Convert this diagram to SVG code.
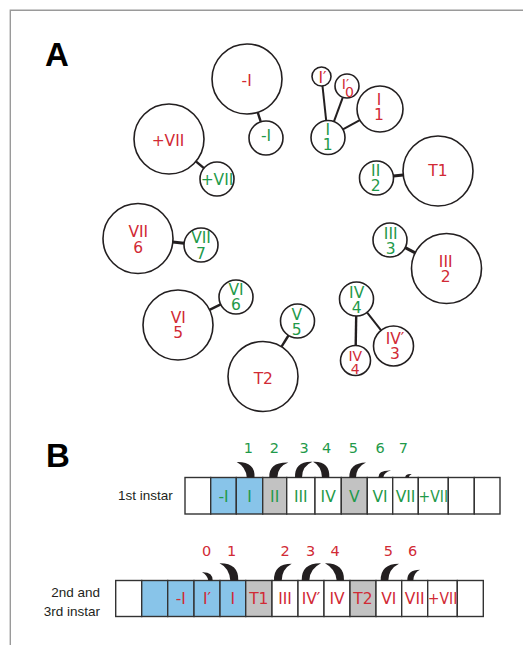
<svg xmlns="http://www.w3.org/2000/svg" width="523" height="645" viewBox="0 0 523 645">
  <style>
    .node circle { fill: #ffffff; stroke: #231f20; stroke-width: 1.6; }
    .conn line { stroke: #231f20; stroke-width: 2.4; stroke-linecap: butt; }
    .lbl { font-family: "DejaVu Sans", Verdana, sans-serif; font-size: 15.5px; text-anchor: middle; }
    .sm { font-size: 14px; }
    .red { fill: #d12a35; }
    .green { fill: #1f9a4a; }
    .num { font-family: "DejaVu Sans", Verdana, sans-serif; font-size: 14.5px; text-anchor: middle; }
    .panel { font-family: "Liberation Sans", Arial, sans-serif; font-weight: bold; font-size: 33px; fill: #000; }
    .stage { font-family: "Liberation Sans", Arial, sans-serif; font-size: 13.5px; fill: #231f20; text-anchor: end; }
    .box { stroke: #333333; stroke-width: 1.4; }
    .w { fill: #ffffff; }
    .b { fill: #88c4e9; }
    .g { fill: #c2c2c2; }
    .hook { fill: #231f20; }
  </style>

  <!-- frame -->
  <polyline points="10.3,645 10.3,10.3 523,10.3" fill="none" stroke="#9a9a9a" stroke-width="1.4"/>

  <!-- panel letters -->
  <text class="panel" x="45" y="66">A</text>
  <text class="panel" x="46" y="467">B</text>

  <!-- A: connectors -->
  <g id="connectors" class="conn">
    <line x1="257.7" y1="112.3" x2="260.8" y2="121.8"/>
    <line x1="195.9" y1="161.4" x2="203.9" y2="168.1"/>
    <line x1="322.5" y1="86" x2="326.2" y2="120.6" style="stroke-width:2"/>
    <line x1="342.8" y1="97.3" x2="333.9" y2="121.6" style="stroke-width:2"/>
    <line x1="342.9" y1="129.3" x2="359.8" y2="120.1" style="stroke-width:2"/>
    <line x1="393.4" y1="176.1" x2="403.2" y2="175" style="stroke-width:3"/>
    <line x1="172.8" y1="242.1" x2="184.1" y2="243.2" style="stroke-width:3"/>
    <line x1="209.5" y1="309.8" x2="220.7" y2="304.4"/>
    <line x1="288.5" y1="335.5" x2="281.5" y2="346.7"/>
    <line x1="405.2" y1="247.7" x2="415.2" y2="252.8" style="stroke-width:3"/>
    <line x1="356.2" y1="316" x2="355.7" y2="345.5"/>
    <line x1="367" y1="312.4" x2="381.1" y2="330.3" style="stroke-width:2"/>
  </g>

  <!-- A: nodes (two-line labels are one text with two lines) -->
  <g id="n-minusI-big" class="node">
    <circle cx="247" cy="79" r="35"/>
    <text class="lbl red" x="246.7" y="86">-I</text>
  </g>
  <g id="n-minusI-small" class="node">
    <circle cx="266" cy="138" r="17"/>
    <text class="lbl green" x="266" y="141">-I</text>
  </g>
  <g id="n-plusVII-big" class="node">
    <circle cx="169" cy="139" r="35"/>
    <text class="lbl red" x="168" y="146">+VII</text>
  </g>
  <g id="n-plusVII-small" class="node">
    <circle cx="217" cy="179" r="17"/>
    <text class="lbl green" x="217" y="185">+VII</text>
  </g>
  <g id="n-Iprime" class="node">
    <circle cx="321.5" cy="76.5" r="9.5"/>
    <text class="lbl red" x="322.5" y="83">I′</text>
  </g>
  <g id="n-Iprime0" class="node">
    <circle cx="347" cy="86" r="12"/>
    <text class="lbl sm red"><tspan x="345.5" y="88.5">I′</tspan><tspan x="349.5" y="96.5">0</tspan></text>
  </g>
  <g id="n-I1-red" class="node">
    <circle cx="380" cy="109" r="23"/>
    <text class="lbl red"><tspan x="379" y="105">I</tspan><tspan x="379" y="120">1</tspan></text>
  </g>
  <g id="n-I1-green" class="node">
    <circle cx="328" cy="137.5" r="17"/>
    <text class="lbl green"><tspan x="327.7" y="135">I</tspan><tspan x="327.7" y="150">1</tspan></text>
  </g>
  <g id="n-II2" class="node">
    <circle cx="376.5" cy="178" r="17"/>
    <text class="lbl green"><tspan x="375.7" y="176">II</tspan><tspan x="375.7" y="191">2</tspan></text>
  </g>
  <g id="n-T1" class="node">
    <circle cx="438" cy="171" r="35"/>
    <text class="lbl red" x="438" y="176">T1</text>
  </g>
  <g id="n-VII6" class="node">
    <circle cx="138" cy="238.5" r="35"/>
    <text class="lbl red"><tspan x="138.3" y="236.7">VII</tspan><tspan x="138.3" y="253.3">6</tspan></text>
  </g>
  <g id="n-VII7" class="node">
    <circle cx="201" cy="245" r="17"/>
    <text class="lbl green"><tspan x="201" y="243.3">VII</tspan><tspan x="201" y="259">7</tspan></text>
  </g>
  <g id="n-III3" class="node">
    <circle cx="390" cy="240" r="17"/>
    <text class="lbl green"><tspan x="390.7" y="239.3">III</tspan><tspan x="390.7" y="254.3">3</tspan></text>
  </g>
  <g id="n-III2" class="node">
    <circle cx="446.5" cy="268.5" r="35"/>
    <text class="lbl red"><tspan x="445.7" y="266.7">III</tspan><tspan x="445.7" y="281.7">2</tspan></text>
  </g>
  <g id="n-VI6" class="node">
    <circle cx="236" cy="297" r="17"/>
    <text class="lbl green"><tspan x="236" y="295">VI</tspan><tspan x="236" y="310">6</tspan></text>
  </g>
  <g id="n-VI5" class="node">
    <circle cx="178" cy="325" r="35"/>
    <text class="lbl red"><tspan x="178.3" y="323.3">VI</tspan><tspan x="178.3" y="337.7">5</tspan></text>
  </g>
  <g id="n-V5" class="node">
    <circle cx="297.5" cy="321" r="17"/>
    <text class="lbl green"><tspan x="296.7" y="320">V</tspan><tspan x="296.7" y="335">5</tspan></text>
  </g>
  <g id="n-T2" class="node">
    <circle cx="263" cy="376.5" r="35"/>
    <text class="lbl red" x="263.3" y="384">T2</text>
  </g>
  <g id="n-IV4-green" class="node">
    <circle cx="356.5" cy="299" r="17"/>
    <text class="lbl green"><tspan x="356.7" y="297.7">IV</tspan><tspan x="356.7" y="312.7">4</tspan></text>
  </g>
  <g id="n-IV4-red" class="node">
    <circle cx="355.5" cy="360.5" r="15"/>
    <text class="lbl sm red"><tspan x="355.3" y="361">IV</tspan><tspan x="355.3" y="374">4</tspan></text>
  </g>
  <g id="n-IVprime3" class="node">
    <circle cx="393.5" cy="346" r="20"/>
    <text class="lbl red"><tspan x="395" y="344">IV′</tspan><tspan x="395" y="358.5">3</tspan></text>
  </g>

  <!-- B: 1st instar segment row -->
  <g id="row-1st">
    <text class="stage" x="172.7" y="500">1st instar</text>
    <rect class="box w" x="185" y="477.5" width="25.7" height="36.5"/>
    <rect class="box b" x="210.7" y="477.5" width="25.6" height="36.5"/>
    <rect class="box b" x="236.3" y="477.5" width="26.4" height="36.5"/>
    <rect class="box g" x="262.7" y="477.5" width="24" height="36.5"/>
    <rect class="box w" x="286.7" y="477.5" width="28.3" height="36.5"/>
    <rect class="box w" x="315" y="477.5" width="26.3" height="36.5"/>
    <rect class="box g" x="341.3" y="477.5" width="26" height="36.5"/>
    <rect class="box w" x="367.3" y="477.5" width="25.4" height="36.5"/>
    <rect class="box w" x="392.7" y="477.5" width="25.6" height="36.5"/>
    <rect class="box w" x="418.3" y="477.5" width="30" height="36.5"/>
    <rect class="box w" x="448.3" y="477.5" width="26" height="36.5"/>
    <rect class="box w" x="474.3" y="477.5" width="25.7" height="36.5"/>
    <g class="lbl green">
      <text x="223.5" y="501.5">-I</text>
      <text x="249.5" y="501.5">I</text>
      <text x="274.7" y="501.5">II</text>
      <text x="300.8" y="501.5">III</text>
      <text x="328.2" y="501.5">IV</text>
      <text x="354.3" y="501.5">V</text>
      <text x="380" y="501.5">VI</text>
      <text x="405.5" y="501.5">VII</text>
      <text x="433.3" y="501.5" textLength="29.5" lengthAdjust="spacingAndGlyphs">+VII</text>
    </g>
    <g class="num green">
      <text x="248.3" y="453.3">1</text>
      <text x="274.3" y="453.3">2</text>
      <text x="304" y="453.3">3</text>
      <text x="326.7" y="453.3">4</text>
      <text x="353.3" y="453.3">5</text>
      <text x="380" y="453.3">6</text>
      <text x="403.3" y="453.3">7</text>
    </g>
    <g class="hook">
      <path d="M236.7,462 Q255.5,461.5 254.5,477.5 L246.8,477.5 Q246,467 236.7,462 Z"/>
      <path d="M288.3,462.5 Q268.5,462 269.3,477.5 L277.3,477.5 Q277.5,466.5 288.3,462.5 Z"/>
      <path d="M312.5,461.8 Q294.5,461 295,477.5 L302,477.5 Q302,466 312.5,461.8 Z"/>
      <path d="M313,461.8 Q330,461 329.3,477.5 L322,477.5 Q321.5,466 313,461.8 Z"/>
      <path d="M366,462.5 Q349,463 349.3,477.5 L356,477.5 Q356.3,467 366,462.5 Z"/>
      <path d="M391,470.5 Q378,470 378.3,477.5 L383.3,477.5 Q384,472.3 391,470.5 Z"/>
      <path d="M411.7,474 Q405,473.5 405.3,477.5 L408.7,477.5 Q409,475.2 411.7,474 Z"/>
    </g>
  </g>

  <!-- B: 2nd and 3rd instar segment row -->
  <g id="row-2nd-3rd">
    <text class="stage"><tspan x="100" y="597">2nd and</tspan><tspan x="100" y="615.5">3rd instar</tspan></text>
    <rect class="box w" x="115.7" y="580.5" width="26" height="36"/>
    <rect class="box b" x="141.7" y="580.5" width="26" height="36"/>
    <rect class="box b" x="167.7" y="580.5" width="26.3" height="36"/>
    <rect class="box b" x="194" y="580.5" width="26" height="36"/>
    <rect class="box b" x="220" y="580.5" width="25.7" height="36"/>
    <rect class="box g" x="245.7" y="580.5" width="26.3" height="36"/>
    <rect class="box w" x="272" y="580.5" width="26" height="36"/>
    <rect class="box w" x="298" y="580.5" width="26" height="36"/>
    <rect class="box w" x="324" y="580.5" width="26" height="36"/>
    <rect class="box g" x="350" y="580.5" width="26" height="36"/>
    <rect class="box w" x="376" y="580.5" width="25.7" height="36"/>
    <rect class="box w" x="401.7" y="580.5" width="26" height="36"/>
    <rect class="box w" x="427.7" y="580.5" width="29.6" height="36"/>
    <rect class="box w" x="457.3" y="580.5" width="26" height="36"/>
    <g class="lbl red">
      <text x="180.8" y="604">-I</text>
      <text x="207" y="604">I′</text>
      <text x="232.8" y="604">I</text>
      <text x="258.8" y="604">T1</text>
      <text x="285" y="604">III</text>
      <text x="311" y="604">IV′</text>
      <text x="337" y="604">IV</text>
      <text x="363" y="604">T2</text>
      <text x="388.8" y="604">VI</text>
      <text x="414.7" y="604">VII</text>
      <text x="442.5" y="604" textLength="29.5" lengthAdjust="spacingAndGlyphs">+VII</text>
    </g>
    <g class="num red">
      <text x="206.7" y="556">0</text>
      <text x="231.7" y="556">1</text>
      <text x="285" y="556">2</text>
      <text x="310.7" y="556">3</text>
      <text x="335" y="556">4</text>
      <text x="388.3" y="556">5</text>
      <text x="412.7" y="556">6</text>
    </g>
    <g class="hook">
      <path d="M202,572.3 Q212.8,571.8 212.7,580.5 L208.3,580.5 Q207.3,575 202,572.3 Z"/>
      <path d="M219.5,563.3 Q238.8,563 238.3,580.5 L230.3,580.5 Q229.3,568 219.5,563.3 Z"/>
      <path d="M291.7,563.8 Q273.5,563.8 274,580.5 L281.7,580.5 Q282,569 291.7,563.8 Z"/>
      <path d="M321,563.3 Q301.3,563 301.7,580.5 L309.3,580.5 Q309.5,569 321,563.3 Z"/>
      <path d="M325,563.3 Q344.5,563 344,580.5 L336.7,580.5 Q335.7,569 325,563.3 Z"/>
      <path d="M399,563.8 Q380.3,564 380.7,580.5 L388.3,580.5 Q388.5,569 399,563.8 Z"/>
      <path d="M420,569.8 Q407,570 407.3,580.5 L413.3,580.5 Q413.5,573 420,569.8 Z"/>
    </g>
  </g>
</svg>
